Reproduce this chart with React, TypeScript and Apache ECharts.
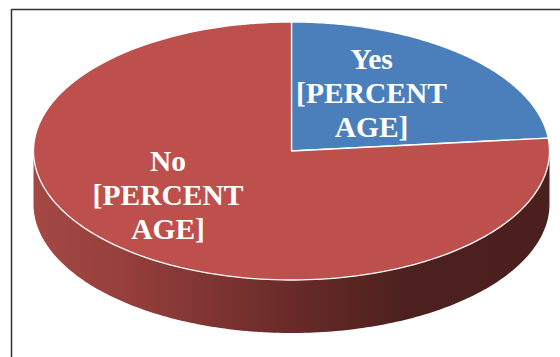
import React, { useEffect, useRef } from "react";
import * as echarts from "echarts";

// Slice data, clockwise from twelve o'clock
const categories = ["Yes", "No"];
const shares = [23.4, 76.6];
const labelTexts = ["Yes\n[PERCENT\nAGE]", "No\n[PERCENT\nAGE]"];
const sliceColors = ["#4b7fbc", "#bd4f4c"];

// Disc geometry in pixels
const CX = 291.5;
const CY = 151;
const RX = 258;
const RY = 129;
const DEPTH = 53;
const ARC_STEPS = 180;

// Where each slice's caption is centred
const labelAnchors = [
  [371.5, 92.5],
  [168, 194.5],
];

const ellipsePoint = (deg: number, dy = 0): number[] => {
  const r = (deg * Math.PI) / 180;
  return [CX + RX * Math.cos(r), CY + dy + RY * Math.sin(r)];
};

const arcPoints = (from: number, to: number, dy = 0): number[][] => {
  const pts: number[][] = [];
  for (let i = 0; i <= ARC_STEPS; i++) {
    pts.push(ellipsePoint(from + ((to - from) * i) / ARC_STEPS, dy));
  }
  return pts;
};

const sliceRange = (index: number): number[] => {
  const total = shares.reduce((a, b) => a + b, 0);
  const before = shares.slice(0, index).reduce((a, b) => a + b, 0);
  return [-90 + (before / total) * 360, -90 + ((before + shares[index]) / total) * 360];
};

const wallShade = {
  type: "linear",
  x: CX - RX,
  y: 0,
  x2: CX + RX,
  y2: 0,
  global: true,
  colorStops: [
    { offset: 0, color: "#a34845" },
    { offset: 0.17, color: "#973f3c" },
    { offset: 0.48, color: "#6b2c2a" },
    { offset: 0.72, color: "#4c201e" },
    { offset: 1, color: "#4b1f1d" },
  ],
};

// Draws the front wall of the disc for the part of a slice facing the viewer
const wallFor = (start: number, end: number): any[] => {
  const ranges: number[][] = [];
  for (const [lo, hi] of [
    [0, 180],
    [360, 540],
  ]) {
    const a = Math.max(start, lo);
    const b = Math.min(end, hi);
    if (b > a) ranges.push([a, b]);
  }
  return ranges.map(([a, b]) => ({
    type: "polygon",
    shape: { points: [...arcPoints(a, b), ...arcPoints(a, b, DEPTH).reverse()] },
    style: { fill: wallShade, stroke: null },
  }));
};

const renderSlice = (_params: any, api: any) => {
  const index = api.value(0) as number;
  const [start, end] = sliceRange(index);
  const [lx, ly] = labelAnchors[index];
  return {
    type: "group",
    children: [
      ...wallFor(start, end),
      {
        type: "polygon",
        shape: { points: [[CX, CY], ...arcPoints(start, end)] },
        style: { fill: sliceColors[index], stroke: "#ffffff", lineWidth: 1.3, lineJoin: "round" },
      },
      {
        type: "text",
        x: lx,
        y: ly,
        z2: 10,
        style: {
          text: labelTexts[index],
          fill: "#ffffff",
          fontFamily: '"Liberation Serif"',
          fontWeight: "bold",
          fontSize: 29.5,
          lineHeight: 34,
          align: "center",
          verticalAlign: "middle",
          textAlign: "center",
          textVerticalAlign: "middle",
        },
      },
    ],
  };
};

export default function App() {
  const ref = useRef<HTMLDivElement>(null);

  useEffect(() => {
    const chart = echarts.init(ref.current!, undefined, { renderer: "svg" });
    chart.setOption({
      animation: false,
      backgroundColor: "#ffffff",
      graphic: [
        { type: "line", shape: { x1: 11.5, y1: 9.5, x2: 560, y2: 9.5 }, style: { stroke: "#333333", lineWidth: 1.5 } },
        { type: "line", shape: { x1: 11.5, y1: 9, x2: 11.5, y2: 357 }, style: { stroke: "#333333", lineWidth: 1.5 } },
      ],
      series: [
        {
          type: "custom",
          coordinateSystem: "none",
          renderItem: renderSlice,
          data: categories.map((name, i) => ({ name, value: [i, shares[i]] })),
        },
      ],
    });
    return () => chart.dispose();
  }, []);

  return <div ref={ref} style={{ position: "absolute", left: 0, top: 0, width: 560, height: 357 }} />;
}
